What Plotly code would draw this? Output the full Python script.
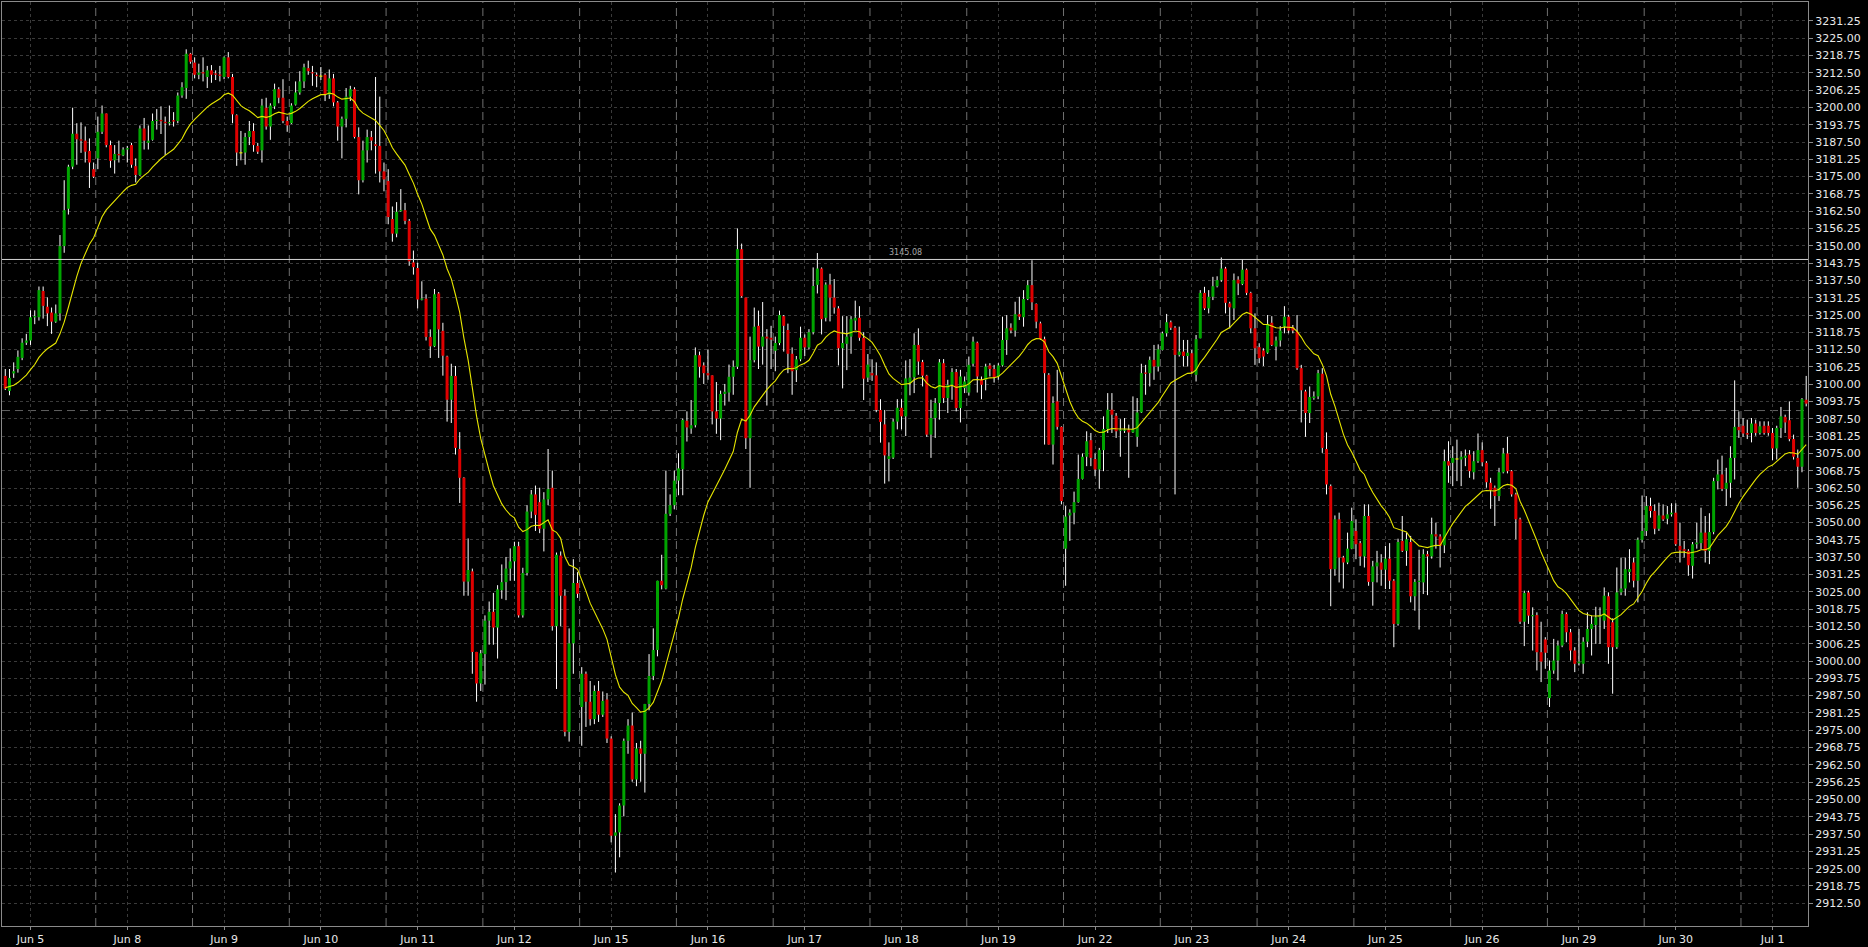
import plotly.graph_objects as go
import pandas as pd

# ---------------- data (US500 H1) ----------------
opens = [
    3103.0, 3097.6, 3103.9, 3105.5, 3109.5, 3115.0, 3115.8, 3124.2, 3124.2, 3133.7,
    3128.0, 3125.9, 3122.6, 3125.6, 3149.9, 3163.4, 3178.6, 3190.5, 3188.5, 3188.0,
    3184.3, 3177.7, 3181.6, 3191.2, 3197.8, 3186.4, 3180.9, 3183.2, 3182.7, 3184.8,
    3186.4, 3178.8, 3175.6, 3192.4, 3187.2, 3188.3, 3195.1, 3195.5, 3194.8, 3194.3,
    3195.4, 3195.1, 3204.3, 3207.0, 3219.4, 3216.2, 3211.8, 3212.6, 3211.0, 3213.4,
    3212.3, 3211.8, 3211.0, 3218.1, 3211.0, 3197.2, 3183.6, 3183.7, 3189.3, 3191.5,
    3186.1, 3184.5, 3199.9, 3193.1, 3200.4, 3206.6, 3203.5, 3195.1, 3194.3, 3201.0,
    3205.4, 3209.4, 3214.2, 3212.7, 3211.8, 3211.3, 3211.8, 3204.6, 3210.5, 3201.8,
    3193.1, 3195.9, 3203.9, 3206.6, 3189.3, 3173.7, 3184.5, 3189.3, 3186.7, 3186.1,
    3176.9, 3173.4, 3159.7, 3154.4, 3162.6, 3162.9, 3159.0, 3144.0, 3142.0, 3130.6,
    3130.9, 3117.1, 3113.7, 3132.8, 3119.3, 3110.0, 3094.4, 3103.0, 3076.6, 3066.2,
    3028.7, 3032.4, 3003.3, 2991.9, 3002.5, 3014.6, 3017.8, 3012.1, 3025.6, 3028.5,
    3033.4, 3036.0, 3041.5, 3016.5, 3031.8, 3054.0, 3060.2, 3057.4, 3047.8, 3058.4,
    3062.6, 3012.6, 3038.1, 3023.6, 2974.4, 3006.4, 3028.2, 2983.4, 2995.4, 2985.3,
    2979.0, 2989.2, 2980.6, 2986.1, 2972.0, 2936.9, 2938.1, 2947.8, 2971.2, 2976.7,
    2957.2, 2968.4, 2966.5, 2984.5, 2994.6, 3004.0, 3029.0, 3026.2, 3053.2, 3056.3,
    3065.2, 3069.3, 3086.8, 3084.0, 3085.2, 3110.5, 3106.8, 3104.0, 3103.2, 3090.2,
    3087.6, 3096.5, 3097.0, 3102.7, 3106.3, 3148.8, 3131.3, 3080.5, 3108.7, 3121.1,
    3113.6, 3117.2, 3116.8, 3112.1, 3114.9, 3124.6, 3119.6, 3111.0, 3105.1, 3109.0,
    3116.8, 3113.3, 3118.8, 3135.9, 3141.8, 3124.0, 3136.0, 3131.3, 3127.4, 3113.0,
    3114.6, 3117.2, 3123.0, 3124.0, 3116.8, 3102.4, 3104.0, 3103.2, 3090.7, 3085.5,
    3073.0, 3073.5, 3086.5, 3091.5, 3088.4, 3100.6, 3102.5, 3114.2, 3108.0, 3103.1,
    3081.8, 3087.8, 3093.2, 3107.6, 3095.0, 3099.8, 3104.4, 3091.4, 3098.6, 3097.0,
    3107.4, 3115.0, 3101.6, 3101.6, 3106.8, 3105.5, 3102.8, 3106.8, 3116.0, 3120.4,
    3119.4, 3125.3, 3124.2, 3130.8, 3135.8, 3129.0, 3122.0, 3116.3, 3103.4, 3078.2,
    3093.8, 3084.6, 3040.6, 3052.6, 3053.6, 3057.4, 3065.8, 3073.8, 3079.8, 3073.0,
    3069.2, 3076.2, 3083.8, 3090.8, 3088.6, 3083.2, 3083.2, 3083.6, 3082.6, 3081.0,
    3089.8, 3104.2, 3104.0, 3108.8, 3106.4, 3112.4, 3118.4, 3122.4, 3120.4, 3110.6,
    3111.8, 3110.2, 3111.2, 3103.4, 3116.6, 3133.0, 3127.4, 3131.6, 3135.4, 3137.6,
    3141.8, 3129.2, 3127.4, 3137.8, 3136.2, 3141.4, 3133.0, 3120.2, 3113.4, 3112.2,
    3111.4, 3122.2, 3113.6, 3115.8, 3120.8, 3124.4, 3120.6, 3119.0, 3105.8, 3097.4,
    3089.6, 3095.0, 3095.6, 3103.8, 3076.6, 3063.2, 3033.2, 3051.2, 3037.4, 3035.6,
    3040.6, 3047.0, 3042.6, 3037.8, 3052.4, 3028.6, 3034.2, 3035.6, 3033.0, 3037.0,
    3029.0, 3013.4, 3043.4, 3039.8, 3043.0, 3023.4, 3028.6, 3028.4, 3038.6, 3037.8,
    3045.8, 3045.0, 3041.8, 3072.2, 3071.6, 3073.0, 3072.8, 3073.4, 3074.6, 3068.2,
    3072.2, 3076.2, 3071.6, 3064.4, 3062.6, 3059.6, 3068.2, 3075.0, 3068.6, 3060.2,
    3051.2, 3014.2, 3024.8, 3016.2, 3016.6, 3003.2, 3007.8, 2986.6, 2996.6, 3000.2,
    3005.6, 3017.0, 3010.4, 3003.8, 2999.2, 2999.0, 3007.0, 3011.6, 3013.0, 3015.8,
    3014.6, 3023.4, 3014.0, 3005.0, 3024.8, 3026.2, 3032.2, 3035.6, 3029.0, 3043.8,
    3047.0, 3056.0, 3054.2, 3047.8, 3052.6, 3051.4, 3053.0, 3053.6, 3041.6, 3040.4,
    3039.8, 3034.4, 3042.2, 3042.6, 3046.4, 3039.8, 3046.6, 3065.0, 3067.4, 3062.2,
    3064.4, 3073.4, 3084.6, 3085.0, 3082.4, 3082.4, 3085.8, 3082.4, 3085.0, 3085.0,
    3082.4, 3076.8, 3084.2, 3088.2, 3087.0, 3080.2, 3073.4, 3070.2, 3094.4,
]

highs = [
    3105.5, 3105.5, 3107.9, 3112.2, 3116.6, 3118.2, 3126.7, 3126.7, 3135.3, 3135.3,
    3131.4, 3127.7, 3128.8, 3153.9, 3173.7, 3179.3, 3199.9, 3194.3, 3194.6, 3193.1,
    3188.8, 3180.1, 3196.7, 3200.7, 3197.8, 3188.0, 3186.4, 3188.0, 3185.6, 3186.1,
    3187.2, 3181.6, 3193.5, 3196.2, 3193.5, 3197.8, 3199.4, 3200.4, 3196.7, 3200.7,
    3198.3, 3205.4, 3209.1, 3221.0, 3219.7, 3218.1, 3215.8, 3218.1, 3215.0, 3215.3,
    3213.4, 3215.0, 3218.4, 3220.0, 3212.1, 3197.5, 3191.5, 3190.8, 3195.1, 3194.3,
    3187.2, 3203.1, 3203.5, 3201.5, 3208.6, 3207.3, 3210.2, 3196.7, 3201.5, 3209.4,
    3213.1, 3215.8, 3216.9, 3215.0, 3212.6, 3214.6, 3212.3, 3213.7, 3212.1, 3202.3,
    3196.7, 3207.0, 3207.8, 3207.3, 3192.8, 3188.0, 3192.0, 3191.5, 3211.0, 3203.9,
    3180.1, 3177.7, 3164.2, 3165.8, 3170.5, 3165.5, 3159.7, 3148.3, 3143.9, 3137.2,
    3132.5, 3119.8, 3134.4, 3133.3, 3122.2, 3110.3, 3107.4, 3106.6, 3082.7, 3066.4,
    3044.3, 3033.4, 3003.3, 3004.0, 3016.5, 3021.5, 3024.6, 3027.4, 3034.9, 3037.6,
    3040.7, 3043.1, 3043.1, 3033.7, 3056.3, 3061.8, 3063.4, 3062.6, 3061.0, 3076.6,
    3068.8, 3039.2, 3039.6, 3025.9, 3011.8, 3036.8, 3032.1, 2997.8, 2996.2, 2992.8,
    2991.2, 2992.8, 2989.0, 2988.4, 2972.8, 2944.7, 2948.6, 2972.0, 2979.0, 2981.4,
    2970.4, 2971.2, 2984.5, 3002.5, 3011.8, 3029.0, 3038.4, 3068.8, 3060.2, 3068.8,
    3075.1, 3087.6, 3090.2, 3094.3, 3113.3, 3111.8, 3107.9, 3112.6, 3103.2, 3100.8,
    3097.7, 3100.1, 3107.1, 3108.6, 3156.3, 3150.8, 3131.3, 3117.2, 3127.7, 3126.6,
    3129.7, 3119.9, 3121.1, 3117.2, 3126.6, 3125.0, 3121.9, 3113.3, 3110.2, 3120.8,
    3118.0, 3119.9, 3142.2, 3147.4, 3142.2, 3136.8, 3139.9, 3138.0, 3128.2, 3124.6,
    3124.6, 3124.6, 3130.2, 3128.2, 3118.8, 3110.9, 3109.0, 3107.9, 3094.6, 3090.7,
    3079.0, 3087.6, 3094.6, 3094.6, 3108.6, 3109.1, 3118.4, 3120.2, 3108.8, 3103.4,
    3094.4, 3095.0, 3109.1, 3109.1, 3101.6, 3105.8, 3105.5, 3105.2, 3102.8, 3110.0,
    3117.2, 3115.4, 3102.8, 3107.4, 3107.6, 3107.0, 3107.6, 3124.4, 3125.0, 3122.0,
    3129.8, 3131.6, 3134.0, 3137.6, 3144.8, 3129.2, 3122.6, 3117.2, 3104.0, 3095.6,
    3105.2, 3084.8, 3056.0, 3054.8, 3061.2, 3074.6, 3075.0, 3083.0, 3082.4, 3075.0,
    3077.0, 3088.4, 3096.8, 3096.8, 3089.6, 3087.4, 3087.8, 3085.4, 3095.6, 3095.0,
    3107.4, 3107.0, 3110.0, 3114.2, 3114.4, 3119.0, 3125.4, 3123.0, 3121.0, 3120.8,
    3116.0, 3116.0, 3112.4, 3117.8, 3134.0, 3135.2, 3134.0, 3138.8, 3139.0, 3145.8,
    3142.4, 3129.8, 3140.0, 3139.0, 3145.0, 3141.8, 3133.4, 3125.6, 3114.8, 3113.0,
    3125.0, 3124.6, 3117.2, 3121.0, 3128.2, 3125.0, 3121.4, 3125.0, 3107.0, 3098.0,
    3099.2, 3097.4, 3105.2, 3105.8, 3082.6, 3063.8, 3052.6, 3053.6, 3038.0, 3046.4,
    3055.4, 3051.2, 3043.4, 3056.6, 3056.6, 3036.2, 3039.8, 3038.6, 3041.6, 3042.6,
    3029.6, 3044.2, 3052.4, 3046.4, 3045.2, 3029.6, 3040.2, 3040.4, 3039.8, 3051.8,
    3050.0, 3045.8, 3076.4, 3079.4, 3077.6, 3080.0, 3075.8, 3076.4, 3076.2, 3075.8,
    3082.2, 3079.0, 3072.2, 3066.2, 3063.4, 3069.8, 3077.0, 3081.0, 3069.0, 3060.8,
    3051.8, 3025.4, 3025.4, 3019.4, 3017.6, 3014.2, 3008.6, 3000.2, 3008.0, 3007.4,
    3018.2, 3017.6, 3011.6, 3005.0, 3011.6, 3008.6, 3017.6, 3016.4, 3019.6, 3019.4,
    3026.6, 3024.8, 3015.4, 3033.8, 3037.4, 3037.4, 3040.4, 3037.4, 3044.6, 3059.8,
    3059.6, 3059.0, 3056.6, 3057.2, 3056.6, 3056.0, 3057.0, 3057.0, 3050.0, 3043.4,
    3040.4, 3043.0, 3050.0, 3055.4, 3052.4, 3053.4, 3066.2, 3072.8, 3074.2, 3069.8,
    3077.6, 3101.4, 3090.2, 3087.8, 3087.2, 3087.8, 3087.2, 3086.6, 3086.6, 3086.6,
    3084.2, 3085.0, 3091.8, 3089.0, 3093.8, 3081.8, 3076.4, 3095.0, 3103.0,
]

lows = [
    3097.9, 3096.0, 3102.3, 3104.2, 3108.7, 3114.2, 3114.2, 3121.7, 3123.0, 3123.7,
    3121.0, 3118.2, 3122.2, 3123.0, 3147.5, 3161.3, 3177.7, 3179.3, 3183.6, 3180.1,
    3170.9, 3174.5, 3177.7, 3190.4, 3185.6, 3178.2, 3176.1, 3180.1, 3182.4, 3180.1,
    3178.2, 3172.9, 3175.3, 3184.8, 3184.8, 3188.0, 3192.0, 3190.4, 3182.8, 3193.5,
    3193.1, 3194.3, 3203.5, 3203.1, 3215.8, 3210.5, 3210.2, 3209.4, 3207.0, 3208.9,
    3209.9, 3209.4, 3210.2, 3210.5, 3194.3, 3178.9, 3180.9, 3179.3, 3186.4, 3184.0,
    3183.2, 3180.1, 3192.0, 3188.3, 3199.4, 3201.5, 3194.3, 3191.2, 3194.0, 3200.7,
    3204.6, 3207.0, 3211.8, 3207.8, 3207.3, 3209.9, 3202.3, 3203.1, 3200.4, 3188.0,
    3181.6, 3192.8, 3202.3, 3188.8, 3168.6, 3172.9, 3180.1, 3184.5, 3176.1, 3172.9,
    3169.7, 3157.8, 3151.5, 3153.1, 3162.3, 3157.8, 3142.8, 3139.6, 3127.4, 3130.3,
    3115.8, 3109.5, 3113.4, 3109.5, 3103.1, 3086.5, 3086.0, 3074.6, 3057.1, 3023.6,
    3023.6, 2995.4, 2985.3, 2989.2, 2991.5, 3005.9, 3005.9, 3000.9, 3022.5, 3022.0,
    3029.0, 3029.0, 3015.7, 3015.7, 3030.9, 3051.6, 3047.0, 3046.2, 3039.6, 3056.3,
    3011.0, 2989.9, 3012.6, 2972.8, 2970.9, 2995.4, 3022.8, 2969.4, 2976.2, 2976.7,
    2977.2, 2978.0, 2979.8, 2970.4, 2934.5, 2923.6, 2929.1, 2943.9, 2966.5, 2956.4,
    2954.8, 2956.4, 2952.5, 2982.2, 2993.1, 3001.7, 3025.9, 3025.9, 3052.4, 3054.8,
    3059.9, 3059.9, 3079.3, 3082.1, 3084.4, 3102.4, 3100.1, 3101.6, 3085.5, 3082.1,
    3079.8, 3092.3, 3093.8, 3096.2, 3105.5, 3131.3, 3076.6, 3062.6, 3107.9, 3105.5,
    3107.1, 3092.3, 3105.5, 3104.7, 3114.1, 3111.8, 3104.0, 3096.2, 3100.8, 3108.3,
    3110.2, 3112.6, 3118.0, 3132.8, 3118.0, 3122.7, 3122.7, 3125.5, 3106.8, 3098.5,
    3105.1, 3111.0, 3119.6, 3115.7, 3094.3, 3100.8, 3101.2, 3089.9, 3078.9, 3064.1,
    3064.9, 3073.0, 3083.7, 3083.7, 3081.3, 3096.0, 3096.8, 3103.4, 3099.2, 3081.0,
    3073.4, 3080.6, 3087.2, 3093.2, 3089.6, 3094.4, 3090.2, 3086.2, 3096.8, 3095.9,
    3106.4, 3097.0, 3094.6, 3097.8, 3102.8, 3100.6, 3101.6, 3106.4, 3110.6, 3118.4,
    3117.2, 3123.2, 3120.8, 3130.4, 3126.8, 3120.2, 3116.0, 3078.2, 3078.2, 3071.0,
    3083.6, 3056.6, 3027.2, 3043.4, 3049.4, 3057.2, 3065.6, 3070.4, 3070.4, 3066.8,
    3062.2, 3068.6, 3082.4, 3082.4, 3080.6, 3073.8, 3082.4, 3066.2, 3082.4, 3077.4,
    3089.6, 3096.2, 3099.2, 3101.6, 3104.6, 3112.2, 3117.2, 3119.6, 3060.2, 3110.0,
    3106.4, 3106.4, 3104.0, 3101.0, 3116.6, 3126.8, 3125.6, 3130.4, 3135.0, 3137.0,
    3125.6, 3120.2, 3123.2, 3132.2, 3135.8, 3132.2, 3118.4, 3107.0, 3107.6, 3106.6,
    3111.0, 3113.8, 3108.6, 3113.6, 3118.4, 3118.4, 3118.4, 3105.2, 3086.2, 3081.0,
    3086.0, 3094.4, 3094.6, 3075.2, 3060.2, 3019.8, 3030.8, 3028.4, 3026.2, 3035.0,
    3040.4, 3036.8, 3034.4, 3033.8, 3027.2, 3020.0, 3028.4, 3027.2, 3026.0, 3026.0,
    3005.0, 3012.8, 3039.4, 3034.4, 3021.2, 3018.2, 3011.4, 3024.2, 3023.8, 3037.0,
    3040.6, 3033.8, 3039.0, 3064.4, 3063.2, 3065.0, 3063.2, 3070.4, 3066.2, 3065.6,
    3071.6, 3070.4, 3062.6, 3055.0, 3048.8, 3057.8, 3067.8, 3067.8, 3059.4, 3044.0,
    3013.4, 3005.4, 3013.4, 3003.8, 2996.6, 2992.4, 2997.2, 2983.4, 2995.4, 2993.0,
    3005.0, 3006.8, 3000.2, 2996.0, 2998.4, 2995.4, 3005.0, 3002.0, 3006.2, 3006.2,
    3011.6, 2999.0, 2988.2, 3004.4, 3023.8, 3023.6, 3028.4, 3026.6, 3021.2, 3042.8,
    3045.2, 3051.8, 3045.8, 3047.0, 3050.6, 3049.4, 3052.2, 3041.6, 3035.6, 3037.4,
    3030.8, 3029.8, 3040.6, 3040.4, 3035.6, 3035.0, 3045.8, 3062.0, 3061.4, 3056.0,
    3059.0, 3065.6, 3080.6, 3081.0, 3080.2, 3079.0, 3081.4, 3081.8, 3081.8, 3081.4,
    3072.6, 3072.8, 3080.6, 3082.4, 3079.4, 3072.8, 3062.6, 3068.2, 3092.0,
]

closes = [
    3098.4, 3102.3, 3104.7, 3109.9, 3115.0, 3115.8, 3124.2, 3124.6, 3134.0, 3128.3,
    3125.6, 3122.6, 3125.6, 3149.9, 3162.9, 3178.6, 3190.5, 3188.5, 3188.0, 3184.0,
    3180.1, 3175.0, 3191.2, 3197.8, 3186.4, 3180.7, 3183.2, 3182.7, 3184.8, 3185.3,
    3179.3, 3175.6, 3192.4, 3188.0, 3188.0, 3195.1, 3195.5, 3195.0, 3194.3, 3194.7,
    3194.9, 3204.3, 3207.3, 3219.4, 3216.5, 3211.8, 3212.6, 3212.4, 3213.4, 3211.8,
    3211.8, 3211.5, 3218.1, 3211.0, 3197.5, 3183.7, 3183.6, 3189.3, 3191.5, 3186.4,
    3184.0, 3200.7, 3193.1, 3200.7, 3206.6, 3203.5, 3195.1, 3193.5, 3200.7, 3205.4,
    3209.4, 3214.5, 3213.1, 3212.3, 3211.3, 3211.3, 3204.6, 3210.5, 3201.8, 3193.1,
    3195.9, 3203.9, 3206.6, 3189.3, 3173.7, 3184.5, 3189.3, 3188.0, 3186.1, 3176.9,
    3174.0, 3160.4, 3154.4, 3162.3, 3162.9, 3159.0, 3144.4, 3142.3, 3130.6, 3130.9,
    3117.1, 3113.7, 3132.5, 3119.8, 3110.3, 3094.4, 3103.0, 3077.0, 3066.2, 3028.7,
    3032.9, 3003.3, 2991.9, 3002.8, 3014.6, 3017.8, 3012.1, 3025.9, 3028.5, 3033.4,
    3036.0, 3041.5, 3016.5, 3031.8, 3054.0, 3060.2, 3052.8, 3047.8, 3058.4, 3062.1,
    3012.6, 3038.4, 3023.6, 2974.4, 3006.4, 3028.2, 3024.3, 2995.4, 2985.3, 2979.0,
    2989.2, 2980.6, 2985.6, 2972.0, 2936.9, 2938.1, 2947.8, 2971.2, 2976.7, 2957.2,
    2968.4, 2966.5, 2984.5, 2994.6, 3004.0, 3029.0, 3027.4, 3053.2, 3056.3, 3065.2,
    3069.6, 3087.1, 3084.4, 3085.2, 3110.5, 3106.3, 3104.0, 3103.2, 3090.2, 3087.6,
    3096.5, 3097.3, 3102.7, 3106.3, 3148.8, 3131.8, 3080.5, 3108.7, 3120.8, 3113.6,
    3117.2, 3116.5, 3116.1, 3114.9, 3125.0, 3121.1, 3111.0, 3104.7, 3109.0, 3116.8,
    3113.3, 3118.8, 3135.5, 3141.8, 3123.5, 3136.0, 3131.3, 3127.7, 3113.0, 3114.9,
    3117.2, 3123.5, 3124.0, 3116.8, 3102.0, 3107.1, 3103.2, 3090.7, 3086.4, 3074.3,
    3074.0, 3086.5, 3091.5, 3088.4, 3102.1, 3102.4, 3114.2, 3108.2, 3103.1, 3081.8,
    3087.8, 3093.2, 3107.9, 3095.0, 3099.8, 3104.4, 3091.4, 3102.8, 3101.0, 3107.0,
    3115.4, 3102.8, 3099.8, 3106.4, 3105.5, 3102.6, 3106.8, 3116.0, 3120.2, 3119.4,
    3125.3, 3124.4, 3130.8, 3135.8, 3129.6, 3122.6, 3116.3, 3104.0, 3078.2, 3093.2,
    3084.6, 3057.8, 3052.2, 3053.6, 3057.4, 3065.8, 3073.8, 3079.4, 3073.4, 3069.2,
    3076.2, 3083.8, 3090.8, 3089.0, 3083.0, 3083.6, 3083.6, 3082.6, 3083.8, 3089.8,
    3104.0, 3103.8, 3108.8, 3106.4, 3112.6, 3118.4, 3122.4, 3120.4, 3110.6, 3111.8,
    3110.2, 3111.4, 3104.6, 3116.3, 3133.0, 3127.4, 3131.6, 3135.4, 3137.6, 3141.8,
    3129.4, 3127.8, 3137.6, 3136.4, 3141.4, 3133.0, 3120.2, 3113.0, 3109.4, 3110.0,
    3121.8, 3114.2, 3115.8, 3119.4, 3124.4, 3119.4, 3119.4, 3105.8, 3097.8, 3089.6,
    3095.4, 3095.6, 3104.0, 3077.0, 3063.8, 3033.2, 3051.2, 3037.4, 3035.6, 3040.6,
    3050.6, 3042.2, 3037.8, 3052.4, 3028.6, 3034.2, 3035.6, 3033.0, 3037.0, 3029.0,
    3013.4, 3043.0, 3039.8, 3044.0, 3023.4, 3028.6, 3029.0, 3038.6, 3037.8, 3045.8,
    3045.0, 3041.6, 3072.2, 3070.6, 3073.4, 3073.0, 3073.8, 3074.2, 3068.6, 3072.2,
    3076.2, 3071.8, 3064.6, 3061.8, 3059.6, 3068.2, 3075.0, 3068.6, 3060.2, 3051.2,
    3014.2, 3024.6, 3016.4, 3016.6, 3003.2, 2999.8, 3003.0, 2996.6, 3000.2, 3005.6,
    3017.0, 3010.4, 3003.8, 2999.0, 2999.8, 3007.0, 3011.6, 3013.4, 3015.8, 3016.4,
    3023.6, 3005.0, 3005.0, 3024.8, 3026.2, 3033.2, 3033.2, 3029.0, 3043.8, 3047.0,
    3056.0, 3054.2, 3047.8, 3052.6, 3051.2, 3053.0, 3053.6, 3042.2, 3040.0, 3039.8,
    3034.6, 3042.2, 3042.8, 3046.4, 3039.8, 3046.6, 3065.0, 3067.4, 3062.2, 3064.4,
    3073.4, 3084.6, 3083.4, 3082.2, 3081.8, 3085.8, 3082.4, 3084.8, 3082.4, 3082.4,
    3076.8, 3084.2, 3088.4, 3086.2, 3080.2, 3073.8, 3070.2, 3094.6, 3093.0,
]

ma_seed = [3098.8]          # last close before the visible window (moving-average warm-up)
ma_period = 20

day_labels = ["Jun 5", "Jun 8", "Jun 9", "Jun 10", "Jun 11", "Jun 12", "Jun 15",
              "Jun 16", "Jun 17", "Jun 18", "Jun 19", "Jun 22", "Jun 23", "Jun 24",
              "Jun 25", "Jun 26", "Jun 29", "Jun 30", "Jul 1"]
day_bar_counts = [22] + [23] * 17 + [16]

price_ticks_min, price_ticks_max, price_step = 2912.50, 3231.25, 6.25
level_line = 3145.08
dashed_level = 3090.5

# ---------------- build ----------------
n = len(closes)
assert len(opens) == len(highs) == len(lows) == n == sum(day_bar_counts)
xs = list(range(n))

GREEN, RED, DOJI = "#00a400", "#de0000", "#e8e800"
MIN_BODY = 0.45   # price units, so flat candles stay visible

wick_x, wick_y = [], []
for i in range(n):
    hi = max(highs[i], opens[i], closes[i])
    lo = min(lows[i], opens[i], closes[i])
    wick_x += [i, i, None]
    wick_y += [lo, hi, None]

body = {GREEN: ([], []), RED: ([], []), DOJI: ([], [])}
for i, (o, c) in enumerate(zip(opens, closes)):
    col = GREEN if c > o else (RED if c < o else DOJI)
    lo, hi = min(o, c), max(o, c)
    if hi - lo < MIN_BODY:
        mid = (o + c) / 2
        lo, hi = mid - MIN_BODY / 2, mid + MIN_BODY / 2
    bx, by = body[col]
    bx += [i, i, None]
    by += [lo, hi, None]

ma = pd.Series(ma_seed + closes).ewm(span=ma_period, adjust=False).mean().tolist()[len(ma_seed):]

fig = go.Figure()
fig.add_trace(go.Scatter(x=wick_x, y=wick_y, mode="lines",
                         line=dict(color="#ffffff", width=1), hoverinfo="skip"))
for col, (bx, by) in body.items():
    fig.add_trace(go.Scatter(x=bx, y=by, mode="lines",
                             line=dict(color=col, width=3), hoverinfo="skip"))
fig.add_trace(go.Scatter(x=xs, y=ma, mode="lines",
                         line=dict(color="#e6e600", width=1.1), hoverinfo="skip"))

# day separators
start = 0
for cnt in day_bar_counts[:-1]:
    start += cnt
    fig.add_shape(type="line", xref="x", yref="paper", x0=start - 0.5, x1=start - 0.5,
                  y0=0, y1=1, line=dict(color="#707070", width=1, dash="8px,5px"), layer="below")

fig.add_shape(type="line", xref="paper", yref="y", x0=0, x1=1, y0=dashed_level, y1=dashed_level,
              line=dict(color="#606060", width=1, dash="8px,5px"), layer="below")
fig.add_shape(type="line", xref="paper", yref="y", x0=0, x1=1, y0=level_line, y1=level_line,
              line=dict(color="#d4d4d4", width=1), layer="above")
fig.add_annotation(x=213.9, y=level_line, xref="x", yref="y", text=f"{level_line:.2f}",
                   showarrow=False, yanchor="bottom", yshift=0,
                   font=dict(family="DejaVu Sans", size=8, color="#a8a8a8"))

label_bars = [6 + 23 * k for k in range(len(day_labels))]
yticks = []
v = price_ticks_min
while v <= price_ticks_max + 1e-9:
    yticks.append(round(v, 2))
    v += price_step

axis_font = dict(family="DejaVu Sans", size=11, color="#e8e8e8")
fig.update_layout(
    width=1868, height=947,
    margin=dict(l=1, r=60, t=1, b=19),
    paper_bgcolor="#000000", plot_bgcolor="#000000",
    showlegend=False,
    xaxis=dict(range=[-0.78, 428.43], tickmode="array", tickvals=label_bars, ticktext=day_labels,
               showgrid=True, gridcolor="#3a3a3a", griddash="dot", gridwidth=1,
               showline=True, linecolor="#8a8a8a", linewidth=1, mirror=True,
               ticks="outside", ticklen=3, tickcolor="#8a8a8a", tickfont=axis_font,
               zeroline=False, fixedrange=True),
    yaxis=dict(range=[2904.28, 3238.09], side="right", tickmode="array", tickvals=yticks,
               ticktext=[f"{t:.2f}" for t in yticks],
               showgrid=True, gridcolor="#3a3a3a", griddash="dot", gridwidth=1,
               showline=True, linecolor="#8a8a8a", linewidth=1, mirror=True,
               ticks="outside", ticklen=4, tickcolor="#8a8a8a", tickfont=axis_font,
               zeroline=False, fixedrange=True),
)

fig.write_html("out.html", config={"displayModeBar": False},
               post_script="document.body.style.margin='0';document.body.style.overflow='hidden';")
